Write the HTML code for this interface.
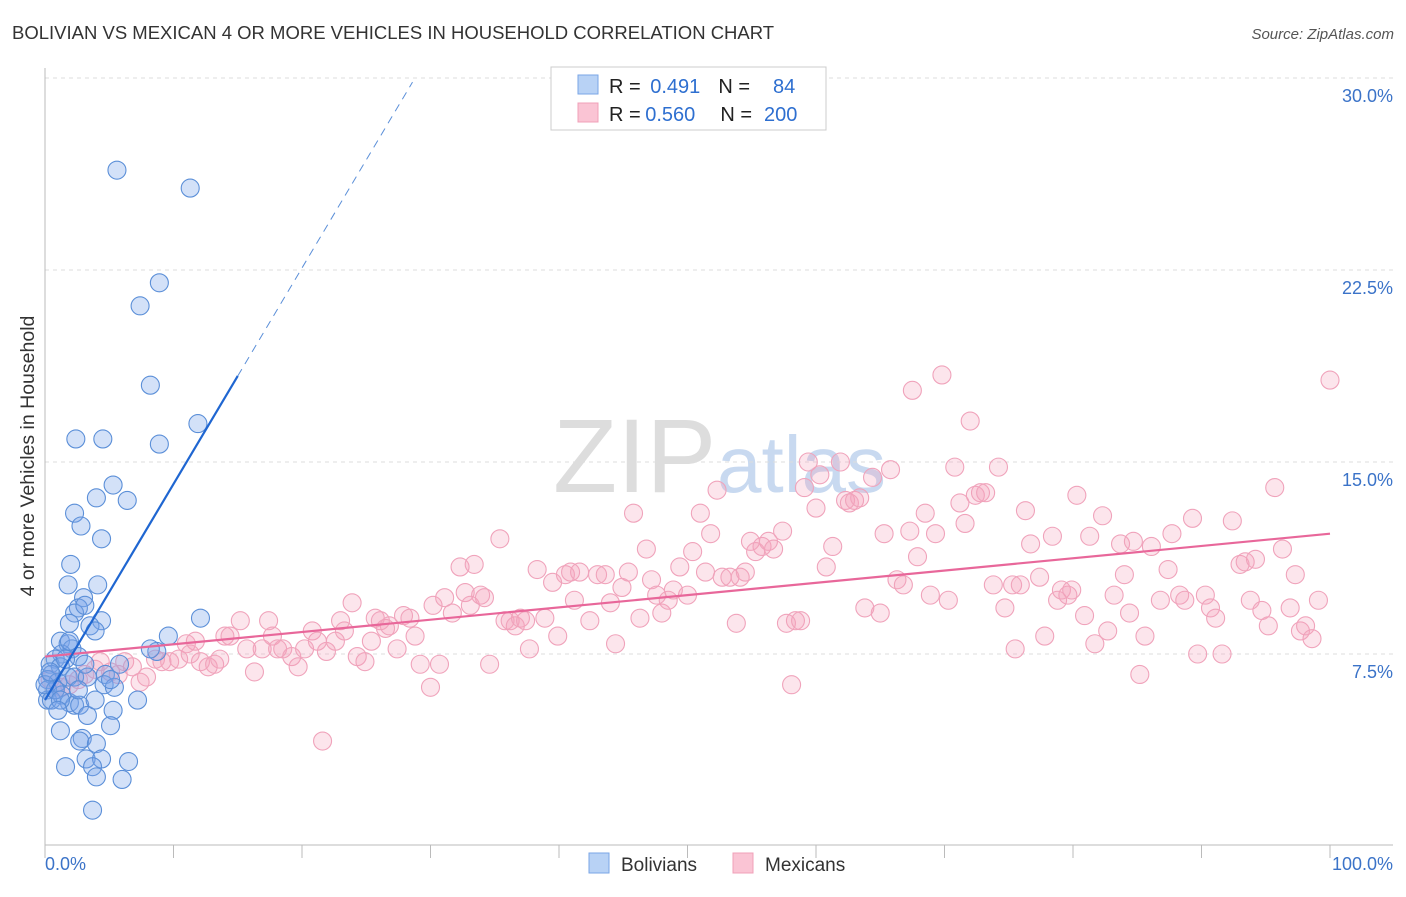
<!DOCTYPE html>
<html><head><meta charset="utf-8"><style>
body{margin:0;background:#fff;font-family:"Liberation Sans",sans-serif}
svg text{font-family:"Liberation Sans",sans-serif}
</style></head><body>
<svg id="chart" width="1406" height="892" viewBox="0 0 1406 892">
<text x="12" y="39" font-size="18.5" fill="#333">BOLIVIAN VS MEXICAN 4 OR MORE VEHICLES IN HOUSEHOLD CORRELATION CHART</text>
<text x="1394" y="39" font-size="15" fill="#555" font-style="italic" text-anchor="end">Source: ZipAtlas.com</text>
<g>
<text x="553" y="492" font-size="105" font-family="Liberation Serif, serif" fill="#ddd">ZIP</text>
<text x="717" y="492" font-size="80" fill="#c8d9f0">atlas</text>
</g>
<g id="grid"></g>
<g id="axes"></g>
<g id="pts"></g>
<g id="trend"></g>
<text transform="translate(34,456) rotate(-90)" font-size="19.5" fill="#333" text-anchor="middle">4 or more Vehicles in Household</text>
<g>
<rect x="551" y="67" width="275" height="63" fill="#fff" stroke="#ccc"/>
<rect x="578" y="75" width="20" height="19" fill="#b8d2f5" stroke="#7aa6e6"/>
<rect x="578" y="103" width="20" height="19" fill="#fac4d4" stroke="#f0a0b8"/>
<text x="609" y="93" font-size="20" fill="#222">R = <tspan fill="#2e6fd0" dx="4">0.491</tspan><tspan dx="18" fill="#222">N =</tspan><tspan dx="23" fill="#2e6fd0">84</tspan></text>
<text x="609" y="121" font-size="20" fill="#222">R = <tspan fill="#2e6fd0" dx="-1">0.560</tspan><tspan dx="25" fill="#222">N =</tspan><tspan dx="12" fill="#2e6fd0">200</tspan></text>
</g>
<g>
<rect x="589" y="853" width="20" height="20" fill="#b8d2f5" stroke="#7aa6e6"/>
<text x="621" y="871" font-size="19" fill="#333">Bolivians</text>
<rect x="733" y="853" width="20" height="20" fill="#fac4d4" stroke="#f0a0b8"/>
<text x="765" y="871" font-size="19" fill="#333">Mexicans</text>
</g>
</svg>
<script>
const yTicks=[7.5,15,22.5,30];
const yTickLabels=["7.5%","15.0%","22.5%","30.0%"];
const xTicks=[0,10,20,30,40,50,60,70,80,90,100];
const bolX=[5.6,11.3,8.9,7.4,8.2,11.9,8.9,2.4,4.5,5.3,4.0,6.4,2.3,2.8,4.4,2.0,1.8,4.1,3.0,2.6,2.3,1.9,4.4,3.5,12.1,9.6,8.7,1.2,1.8,2.1,1.3,2.6,0.8,0.4,1.2,0.5,0.2,1.0,1.8,2.3,3.3,4.7,4.6,5.4,0.2,1.3,1.9,2.3,2.7,7.2,5.3,3.3,1.2,5.1,2.9,2.7,4.0,3.2,4.4,6.5,1.6,3.7,4.0,6.0,3.7,0.2,0.5,0.8,0.0,0.4,3.1,1.6,1.9,3.9,3.1,5.1,5.8,8.2,2.6,1.2,3.9,1.0];
const bolY=[26.4,25.7,22.0,21.1,18.0,16.5,15.7,15.9,15.9,14.1,13.6,13.5,13.0,12.5,12.0,11.0,10.2,10.2,9.7,9.3,9.1,8.7,8.8,8.6,8.9,8.2,7.6,8.0,7.9,7.7,7.5,7.4,7.3,7.1,7.0,6.7,6.5,6.4,6.6,6.6,6.6,6.7,6.3,6.2,6.1,5.9,5.6,5.5,5.5,5.7,5.3,5.1,4.5,4.7,4.2,4.1,4.0,3.4,3.4,3.3,3.1,3.1,2.7,2.6,1.4,5.7,5.7,6.1,6.3,6.8,7.1,7.3,8.0,8.4,9.4,6.5,7.1,7.7,6.1,5.7,5.7,5.3];
const mexX=[0.4,0.8,1.3,1.9,2.6,3.1,3.9,4.3,5.1,5.7,6.2,6.8,7.4,7.9,8.6,9.1,9.7,10.4,11.0,11.3,11.7,12.1,12.7,13.2,13.6,14.0,14.4,15.2,15.7,16.3,16.9,17.4,17.7,18.1,18.5,19.2,19.7,20.2,20.8,21.2,21.6,21.9,22.6,23.0,23.3,23.9,24.3,24.9,25.4,25.7,26.1,26.5,26.8,27.4,27.9,28.4,28.8,29.2,30.0,30.2,30.7,31.1,31.7,32.3,32.7,33.1,33.4,33.9,34.2,34.6,35.4,35.8,36.2,36.6,37.0,37.4,37.7,38.3,38.9,39.5,39.9,40.5,40.9,41.2,41.6,42.4,43.0,43.6,44.0,44.4,44.9,45.4,45.8,46.3,46.8,47.2,47.6,48.0,48.5,48.9,49.4,50.0,50.4,51.0,51.4,51.8,52.3,52.7,53.3,53.8,54.1,54.5,54.9,55.3,55.8,56.3,56.7,57.4,57.7,58.1,58.4,58.8,59.1,59.4,60.0,60.3,60.8,61.3,61.9,62.3,62.6,63.0,63.4,63.8,64.4,65.0,65.3,65.8,66.3,66.8,67.3,67.5,67.9,68.5,68.9,69.3,69.8,70.3,70.8,71.2,71.6,72.0,72.4,72.8,73.2,73.8,74.2,74.7,75.3,75.5,75.9,76.3,76.7,77.4,77.8,78.4,78.8,79.1,79.6,79.9,80.3,80.9,81.3,81.7,82.3,82.7,83.2,83.7,84.0,84.4,84.7,85.2,85.6,86.1,86.8,87.4,87.7,88.3,88.7,89.3,89.7,90.3,90.7,91.1,91.6,92.4,93.0,93.4,93.8,94.2,94.7,95.2,95.7,96.3,96.9,97.3,97.7,98.1,98.6,99.1,100];
const mexY=[6.5,6.1,6.2,6.3,6.5,6.7,6.9,7.2,6.8,6.7,7.2,7.0,6.4,6.6,7.3,7.2,7.2,7.3,7.9,7.5,8.0,7.2,7.0,7.1,7.3,8.2,8.2,8.8,7.7,6.8,7.7,8.8,8.2,7.7,7.7,7.4,7.0,7.7,8.4,8.0,4.1,7.6,8.0,8.8,8.4,9.5,7.4,7.2,8.0,8.9,8.8,8.5,8.6,7.7,9.0,8.9,8.2,7.1,6.2,9.4,7.1,9.7,9.1,10.9,9.9,9.4,11.0,9.8,9.7,7.1,12.0,8.8,8.8,8.6,8.9,8.8,7.7,10.8,8.9,10.3,8.2,10.6,10.7,9.6,10.7,8.8,10.6,10.6,9.5,7.9,10.1,10.7,13.0,8.9,11.6,10.4,9.8,9.1,9.6,10.0,10.9,9.8,11.5,13.0,10.7,12.2,13.9,10.5,10.5,8.7,10.5,10.7,11.9,11.5,11.7,11.9,11.6,12.3,8.7,6.3,8.8,8.8,14.0,15.0,13.2,14.5,10.9,11.7,15.0,13.5,13.4,13.5,13.6,9.3,14.4,9.1,12.2,14.7,10.4,10.2,12.3,17.8,11.3,13.0,9.8,12.2,18.4,9.6,14.8,13.4,12.6,16.6,13.7,13.8,13.8,10.2,14.8,9.3,10.2,7.7,10.2,13.1,11.8,10.5,8.2,12.1,9.6,10.0,9.8,10.0,13.7,9.0,12.1,7.9,12.9,8.4,9.8,11.8,10.6,9.1,11.9,6.7,8.2,11.7,9.6,10.8,12.2,9.8,9.6,12.8,7.5,9.8,9.3,8.9,7.5,12.7,11.0,11.1,9.6,11.2,9.2,8.6,14.0,11.6,9.3,10.6,8.4,8.6,8.1,9.6,18.2];
const bolTrend=[5.7,0.844]; // intercept, slope
const bolSolidEnd=15.0, bolDashEnd=28.6;
const mexTrend=[7.4,0.048];

const X0=45,X1=1330,Y0=846,YTOP=78;
const sx=v=>X0+(X1-X0)*v/100;
const sy=v=>Y0-(Y0-YTOP)*v/30;
const NS="http://www.w3.org/2000/svg";
function mk(tag,attrs,parent){const e=document.createElementNS(NS,tag);for(const k in attrs)e.setAttribute(k,attrs[k]);parent.appendChild(e);return e;}
const grid=document.getElementById('grid'),axes=document.getElementById('axes'),pts=document.getElementById('pts'),trend=document.getElementById('trend');
yTicks.forEach((t,i)=>{
  const l=mk('line',{x1:X0,x2:1393,y1:sy(t),y2:sy(t),stroke:'#ddd','stroke-dasharray':'4,4'},grid);
  
  
  const tx=mk('text',{x:1393,y:sy(t)+24,'font-size':18,fill:'#3b73c8','text-anchor':'end'},grid);
  tx.textContent=yTickLabels[i];
  
  
});
let a=mk('line',{x1:X0,x2:X0,y1:68,y2:845,stroke:'#bbb'},axes);


a=mk('line',{x1:X0,x2:1393,y1:845,y2:845,stroke:'#bbb'},axes);


xTicks.forEach(t=>{
  const l=mk('line',{x1:sx(t),x2:sx(t),y1:845,y2:858,stroke:'#bbb'},axes);
  
  
});
let t1=mk('text',{x:45,y:870,'font-size':18,fill:'#3b73c8'},axes);t1.textContent='0.0%';


t1=mk('text',{x:1393,y:870,'font-size':18,fill:'#3b73c8','text-anchor':'end'},axes);t1.textContent='100.0%';


mexX.forEach((x,i)=>{
  const c=mk('circle',{cx:sx(x),cy:sy(mexY[i]),r:9,fill:'rgba(246,160,188,0.28)',stroke:'#f0a3bb','stroke-width':1.1},pts);
  
  
});
bolX.forEach((x,i)=>{
  const c=mk('circle',{cx:sx(x),cy:sy(bolY[i]),r:9,fill:'rgba(120,165,235,0.33)',stroke:'#5b8fd8','stroke-width':1.1},pts);
  
  
});
let tl=mk('line',{x1:sx(0),y1:sy(mexTrend[0]),x2:sx(100),y2:sy(mexTrend[0]+mexTrend[1]*100),stroke:'#e8679a','stroke-width':2.2},trend);


tl=mk('line',{x1:sx(0),y1:sy(bolTrend[0]),x2:sx(bolSolidEnd),y2:sy(bolTrend[0]+bolTrend[1]*bolSolidEnd),stroke:'#1f66d1','stroke-width':2.2},trend);


tl=mk('line',{x1:sx(bolSolidEnd),y1:sy(bolTrend[0]+bolTrend[1]*bolSolidEnd),x2:sx(bolDashEnd),y2:sy(bolTrend[0]+bolTrend[1]*bolDashEnd),stroke:'#5b8fd8','stroke-width':1,'stroke-dasharray':'8,6'},trend);


</script>
</body></html>
